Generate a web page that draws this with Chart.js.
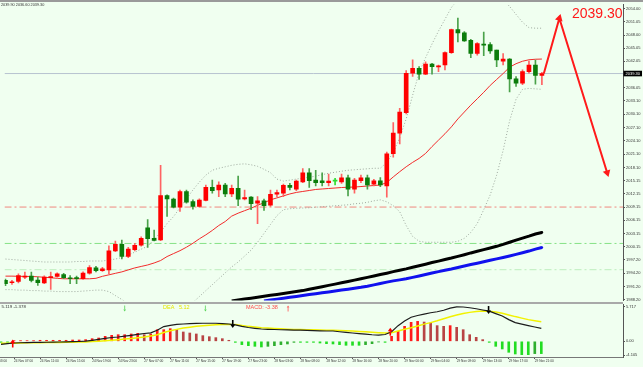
<!DOCTYPE html>
<html>
<head>
<meta charset="utf-8">
<script src="https://cdn.jsdelivr.net/npm/chart.js@4.4.1/dist/chart.umd.min.js"></script>
<style>
    html, body { margin: 0; padding: 0; background: #f0fff0; }
    #wrap   { position: relative; width: 643px; height: 367px; overflow: hidden; background: #f0fff0; }
    canvas  { position: absolute; left: 0; }
    #topbar { position: absolute; left: 0; top: 0; width: 643px; height: 2px; background: #9a9a9a; }
    #sep    { position: absolute; left: 0; top: 302px; width: 623px; height: 2px; background: #a9a9a9; }
</style>
</head>
<body>
<div id="wrap">
    <canvas id="main" width="643" height="305" style="top:0"></canvas>
    <canvas id="macd" width="643" height="65" style="top:302px"></canvas>
    <div id="topbar"></div>
    <div id="sep"></div>
</div>
<script>
// ───────────────────────── CANDLES (H1, bar 0 = leftmost) ─────────────────────────
const opens = [
    1992.60, 1992.05, 1992.35, 1993.33, 1993.55, 1992.66, 1992.00, 1993.18, 1993.47, 1993.91,
    1993.18, 1993.20, 1992.95, 1994.22, 1995.40, 1994.80, 1994.96, 1999.26, 2000.75, 1998.01,
    1999.50, 2000.53, 2004.47, 2002.09, 2001.71, 2011.74, 2010.93, 2009.15, 2012.63, 2010.40,
    2009.28, 2010.62, 2013.61, 2013.00, 2014.12, 2012.11, 2013.38, 2011.00, 2011.38, 2010.04,
    2010.55, 2009.60, 2012.05, 2012.27, 2014.05, 2013.16, 2014.85, 2016.86, 2015.23, 2015.08,
    2014.63, 2015.00, 2014.85, 2015.75, 2013.16, 2015.08, 2015.75, 2014.34, 2015.08, 2013.90,
    2021.18, 2025.86, 2030.45, 2039.36, 2040.48, 2039.14, 2041.41, 2040.80, 2041.23, 2044.04,
    2049.25, 2048.50, 2046.80, 2043.82, 2045.98, 2045.82, 2044.57, 2042.12, 2042.57, 2038.11,
    2037.13, 2039.74, 2041.23, 2038.85
];
const highs = [
    1992.90, 1992.60, 1994.07, 1994.45, 1994.45, 1993.33, 1993.62, 1994.45, 1994.29, 1994.18,
    1993.69, 1993.55, 1994.51, 1995.92, 1995.74, 1995.56, 2000.37, 2001.49, 2001.71, 2000.08,
    2000.98, 2002.42, 2006.32, 2003.93, 2018.57, 2011.89, 2011.16, 2013.00, 2013.00, 2010.77,
    2011.00, 2014.12, 2015.23, 2014.85, 2014.50, 2014.12, 2016.12, 2013.00, 2011.51, 2011.51,
    2010.93, 2013.00, 2013.00, 2014.34, 2014.50, 2015.23, 2017.84, 2017.84, 2017.46, 2016.86,
    2016.57, 2015.61, 2016.57, 2016.35, 2015.61, 2016.35, 2016.35, 2015.39, 2015.83, 2021.54,
    2028.22, 2031.43, 2039.96, 2042.41, 2040.85, 2041.97, 2041.59, 2041.23, 2044.20, 2049.32,
    2051.84, 2048.80, 2047.03, 2046.27, 2048.65, 2046.27, 2044.60, 2043.82, 2042.70, 2038.63,
    2040.12, 2042.12, 2042.35, 2039.58
];
const lows = [
    1991.40, 1991.70, 1992.00, 1992.95, 1992.22, 1991.46, 1991.84, 1990.57, 1993.33, 1992.95,
    1991.84, 1991.84, 1992.80, 1994.00, 1994.51, 1994.62, 1994.07, 1999.08, 1997.41, 1997.70,
    1999.26, 2000.30, 2000.02, 2001.49, 2001.53, 2007.06, 2008.93, 2008.17, 2010.04, 2008.69,
    2009.10, 2010.55, 2012.27, 2011.51, 2011.51, 2011.51, 2009.44, 2010.77, 2008.55, 2005.40,
    2008.39, 2009.28, 2011.51, 2011.51, 2013.00, 2012.85, 2014.63, 2013.61, 2013.90, 2013.90,
    2013.90, 2014.12, 2014.50, 2011.67, 2012.27, 2014.63, 2013.16, 2013.90, 2013.74, 2011.38,
    2020.42, 2023.41, 2030.16, 2038.63, 2037.96, 2039.07, 2039.14, 2039.74, 2040.12, 2043.82,
    2046.42, 2046.58, 2042.86, 2043.46, 2043.31, 2043.82, 2040.85, 2041.23, 2035.13, 2036.40,
    2036.78, 2039.36, 2036.91, 2036.78
];
const closes = [
    1991.85, 1992.27, 1993.69, 1993.47, 1992.57, 1992.06, 1993.33, 1993.47, 1994.07, 1993.18,
    1992.95, 1993.00, 1994.22, 1995.47, 1994.80, 1995.18, 1999.26, 2000.75, 1998.01, 1999.64,
    2000.53, 2002.09, 2002.02, 2001.64, 2011.74, 2011.00, 2009.15, 2012.63, 2010.26, 2009.28,
    2010.71, 2013.61, 2012.85, 2014.12, 2012.11, 2013.38, 2010.93, 2011.29, 2009.89, 2010.55,
    2009.44, 2012.05, 2012.40, 2014.05, 2013.61, 2015.01, 2016.86, 2015.08, 2014.63, 2014.63,
    2015.01, 2015.00, 2015.75, 2013.16, 2015.23, 2015.75, 2014.12, 2015.08, 2014.12, 2021.18,
    2025.86, 2030.61, 2039.36, 2040.48, 2039.14, 2041.41, 2040.85, 2040.90, 2044.04, 2049.25,
    2048.50, 2046.65, 2043.82, 2046.05, 2045.69, 2044.42, 2042.35, 2042.57, 2038.11, 2037.13,
    2039.74, 2041.23, 2038.85, 2039.30
];

// ───────────────────────── INDICATORS (main window) ─────────────────────────
const maRed = [
    1993.55, 1993.55, 1993.51, 1993.49, 1993.47, 1993.40, 1993.29, 1993.18, 1993.06, 1992.95,
    1992.95, 1992.95, 1992.95, 1992.95, 1993.06, 1993.51, 1993.84, 1994.18, 1994.51, 1994.96,
    1995.40, 1995.74, 1996.07, 1996.52, 1997.07, 1997.97, 1998.64, 1999.30, 2000.08, 2000.97,
    2001.98, 2002.87, 2003.87, 2004.98, 2005.88, 2007.10, 2007.77, 2008.33, 2008.88, 2009.55,
    2010.11, 2010.78, 2011.22, 2011.67, 2012.11, 2012.45, 2012.67, 2012.89, 2013.12, 2013.23,
    2013.34, 2013.45, 2013.56, 2013.63, 2013.67, 2013.78, 2013.90, 2014.01, 2014.12, 2014.70,
    2015.95, 2017.13, 2018.24, 2019.24, 2020.13, 2021.25, 2022.81, 2024.26, 2025.70, 2027.26,
    2029.05, 2030.61, 2032.17, 2033.61, 2035.06, 2036.62, 2037.96, 2039.30, 2040.74, 2041.52,
    2042.08, 2042.41, 2042.53, 2042.57
];
const bandUpper = [
    1997.41, 1997.30, 1997.19, 1997.08, 1996.96, 1996.85, 1996.74, 1996.74, 1996.74, 1996.74,
    1996.74, 1996.85, 1996.85, 1996.96, 1996.96, 1996.96, 1997.19, 1997.41, 1997.74, 1998.30,
    1998.97, 1999.64, 2000.30, 2001.86, 2003.42, 2005.43, 2006.99, 2008.99, 2011.00, 2013.00,
    2014.79, 2016.35, 2017.46, 2017.91, 2018.24, 2018.58, 2018.80, 2018.91, 2018.69, 2018.35,
    2017.68, 2016.90, 2015.46, 2015.01, 2015.23, 2015.46, 2015.68, 2015.90, 2016.12, 2016.46,
    2016.79, 2017.01, 2017.24, 2017.46, 2017.57, 2017.68, 2017.79, 2017.91, 2017.91, 2019.24,
    2021.47, 2024.81, 2029.05, 2034.39, 2039.52, 2042.86, 2045.98, 2048.88, 2051.55, 2054.22,
    2056.00, 2057.12, 2058.01, 2058.46, 2058.46, 2058.01, 2057.12, 2056.00, 2054.45, 2052.66,
    2050.88, 2049.66, 2049.54, 2049.54
];
const bandLower = [
    1990.50, 1990.50, 1990.39, 1990.39, 1990.28, 1990.28, 1990.17, 1990.17, 1990.06, 1990.06,
    1990.06, 1990.06, 1990.17, 1990.28, 1990.39, 1990.39, 1990.06, 1989.16, 1988.27, 1987.38,
    1986.94, 1986.49, 1986.27, 1986.04, 1986.04, 1986.04, 1986.27, 1986.49, 1986.94, 1987.60,
    1988.94, 1990.28, 1991.62, 1992.95, 1994.29, 1995.63, 1996.74, 1998.08, 1999.42, 2001.20,
    2003.20, 2005.21, 2007.21, 2008.55, 2008.77, 2008.88, 2008.93, 2008.99, 2009.11, 2009.22,
    2009.33, 2009.44, 2009.55, 2009.66, 2009.89, 2010.00, 2010.22, 2010.55, 2010.78, 2010.33,
    2009.44, 2008.10, 2004.98, 2002.53, 2001.42, 2001.20, 2001.20, 2001.20, 2001.20, 2001.20,
    2001.42, 2002.09, 2003.42, 2005.43, 2008.55, 2011.89, 2016.35, 2021.92, 2028.60, 2033.50,
    2035.73, 2035.95, 2035.84, 2035.73
];
// slow averages only enter the window late (null = below the visible range)
const maBlack = [
    null, null, null, null, null, null, null, null, null, null,
    null, null, null, null, null, null, null, null, null, null,
    null, null, null, null, null, null, null, null, null, null,
    null, null, null, null, null, 1987.94, 1988.16, 1988.36, 1988.56, 1988.76,
    1988.99, 1989.21, 1989.41, 1989.63, 1989.83, 1990.06, 1990.28, 1990.59, 1990.88, 1991.17,
    1991.46, 1991.75, 1992.04, 1992.33, 1992.64, 1992.95, 1993.27, 1993.58, 1993.91, 1994.22,
    1994.56, 1994.87, 1995.18, 1995.54, 1995.90, 1996.25, 1996.61, 1996.94, 1997.30, 1997.63,
    1998.01, 1998.39, 1998.79, 1999.15, 1999.53, 1999.90, 2000.28, 2000.71, 2001.20, 2001.67,
    2002.13, 2002.58, 2003.07, 2003.42
];
const maBlue = [
    null, null, null, null, null, null, null, null, null, null,
    null, null, null, null, null, null, null, null, null, null,
    null, null, null, null, null, null, null, null, null, null,
    null, null, null, null, null, null, null, null, null, null,
    1987.92, 1988.14, 1988.36, 1988.56, 1988.76, 1988.97, 1989.19, 1989.39, 1989.59, 1989.79,
    1989.99, 1990.19, 1990.41, 1990.61, 1990.83, 1991.02, 1991.28, 1991.58, 1991.90, 1992.20,
    1992.48, 1992.70, 1992.95, 1993.27, 1993.58, 1993.91, 1994.25, 1994.56, 1994.89, 1995.18,
    1995.51, 1995.83, 1996.16, 1996.47, 1996.81, 1997.12, 1997.45, 1997.77, 1998.10, 1998.46,
    1998.84, 1999.21, 1999.64, 2000.02
];

// ───────────────────────── MACD WINDOW ─────────────────────────
const macdLine = [
    -0.50, -0.38, -0.28, -0.24, -0.21, -0.19, -0.17, -0.15, -0.13, -0.11,
    -0.09, -0.06, -0.03, 0.03, 0.17, 0.32, 0.48, 0.63, 0.72, 0.85,
    1.00, 1.15, 1.30, 1.40, 1.84, 2.45, 2.65, 2.82, 2.87, 2.92,
    2.97, 3.00, 3.00, 3.00, 2.95, 2.87, 2.74, 2.49, 2.29, 2.16,
    2.04, 1.99, 1.96, 1.92, 1.90, 1.87, 1.87, 1.82, 1.77, 1.74,
    1.71, 1.71, 1.59, 1.48, 1.38, 1.28, 1.18, 1.09, 1.04, 1.13,
    1.60, 2.60, 3.37, 4.00, 4.28, 4.50, 4.74, 4.90, 5.15, 5.50,
    5.70, 5.69, 5.57, 5.40, 5.20, 5.00, 4.60, 4.20, 3.60, 3.10,
    2.84, 2.60, 2.37, 2.16
];
const signalLine = [
    -0.33, -0.33, -0.30, -0.27, -0.25, -0.23, -0.22, -0.21, -0.20, -0.19,
    -0.17, -0.15, -0.13, -0.10, -0.05, 0.02, 0.10, 0.18, 0.27, 0.38,
    0.48, 0.60, 0.72, 0.90, 1.10, 1.45, 1.75, 1.98, 2.20, 2.35,
    2.50, 2.60, 2.68, 2.74, 2.78, 2.80, 2.78, 2.62, 2.48, 2.38,
    2.27, 2.20, 2.13, 2.07, 2.02, 1.98, 1.95, 1.93, 1.90, 1.87,
    1.85, 1.82, 1.79, 1.75, 1.70, 1.64, 1.57, 1.50, 1.43, 1.38,
    1.42, 1.72, 2.00, 2.25, 2.55, 2.85, 3.10, 3.40, 3.75, 4.08,
    4.35, 4.60, 4.80, 4.95, 5.02, 5.00, 4.85, 4.65, 4.38, 4.10,
    3.85, 3.60, 3.42, 3.25
];
const macdHist = [
    -0.17, -0.17, 0.11, 0.11, 0.11, 0.11, 0.17, 0.17, 0.17, 0.17,
    0.17, 0.22, 0.22, 0.28, 0.44, 0.55, 0.83, 0.99, 1.10, 1.10,
    1.22, 1.33, 1.10, 1.22, 1.93, 1.93, 2.10, 1.99, 1.55, 1.38,
    1.22, 0.94, 0.77, 0.61, 0.44, 0.17, -0.17, -0.55, -0.72, -0.83,
    -0.94, -0.83, -0.72, -0.55, -0.44, -0.17, -0.17, -0.17, -0.17, -0.28,
    -0.39, -0.44, -0.55, -0.66, -0.66, -0.66, -0.55, -0.39, -0.11, -0.17,
    0.83, 1.66, 2.49, 3.15, 3.31, 3.20, 3.04, 2.60, 2.49, 2.60,
    2.32, 1.93, 1.10, 0.66, 0.28, -0.17, -0.83, -1.27, -1.82, -2.10,
    -2.21, -2.21, -2.04, -2.04
];
const crossMarks  = [ { bar: 1.8, value: -0.36, up: true }, { bar: 35.6, value: 2.87, up: false },
                      { bar: 59.8, value: 1.60, up: true }, { bar: 74.9, value: 5.19, up: false } ];
const signalMarks = [ { bar: 19.0, up: false }, { bar: 31.4, up: false }, { bar: 44.1, up: true } ];

// ───────────────────────── AXES, LEVELS, TEXT ─────────────────────────
const priceTicks = [2054.00, 2051.05, 2048.00, 2045.05, 2042.05, 2036.05, 2033.10, 2030.10, 2027.10, 2024.10, 2021.10,
                    2018.10, 2015.15, 2012.15, 2009.15, 2006.15, 2003.15, 2000.15, 1997.20, 1994.20, 1991.20, 1988.20];
const macdTickValues = [5.717, 0, -2.3];
const macdTickLabels = ["5.717", "0.00", "-4.105"];
const timeTickBars   = [-2, 2, 6, 10, 14, 18, 22, 26, 30, 34, 38, 42, 46, 50, 54, 58, 62, 66, 70, 74, 78, 82];
const timeTickLabels = ["24 Nov 03:00", "24 Nov 07:00", "24 Nov 11:00", "24 Nov 15:00", "24 Nov 19:00", "24 Nov 23:00",
                        "27 Nov 07:00", "27 Nov 11:00", "27 Nov 15:00", "27 Nov 19:00", "27 Nov 23:00",
                        "28 Nov 03:00", "28 Nov 08:00", "28 Nov 12:00", "28 Nov 16:00", "28 Nov 20:00",
                        "29 Nov 00:00", "29 Nov 04:00", "29 Nov 09:00", "29 Nov 13:00", "29 Nov 17:00", "29 Nov 21:00"];
const levels      = [2039.30, 2009.15, 2000.93, 1995.00];
const levelColors = ["#b7c4d0", "#f0877f", "#85e285", "#bdeebd"];
const forecastPath = [ { x: 83.3, y: 2039.30 }, { x: 85.7, y: 2051.77 }, { x: 93.1, y: 2016.90 } ];
const headerText = "2039.90 2036.60 2039.30";
const macdHeader = "5.119 -1.378";
const deaText    = "DEA   5.12";
const macdText   = "MACD: -3.38";

const X_MIN = -0.154, X_MAX = 95.55;
const FONT  = "'Liberation Sans', Arial, sans-serif";

// ───────────────────────── HELPERS ─────────────────────────
const bars = opens.map((_, i) => i);
const pts  = arr => arr.map((v, i) => ({ x: i, y: v }));
const bodyCol = i => closes[i] > opens[i] ? "#ff0000" : closes[i] < opens[i] ? "#0b7d0b" : "#2fdc2f";
const wickCol = i => closes[i] > opens[i] ? "#ff6363" : closes[i] < opens[i] ? "#4aa24a" : "#2fdc2f";
const histCol = i => {
    const v = macdHist[i], p = i > 0 ? macdHist[i - 1] : v;
    if (v >= 0) return v >= p ? "#ff1a1a" : "#b84444";
    return v <= p ? "#22dd22" : "#2fae2f";
};
function arrowAngle(c) {
    const i = c.dataIndex;
    if (i === 0) return 0;
    const xs = c.chart.scales.x, ys = c.chart.scales.y;
    const a = forecastPath[i - 1], b = forecastPath[i];
    const dx = xs.getPixelForValue(b.x) - xs.getPixelForValue(a.x);
    const dy = ys.getPixelForValue(b.y) - ys.getPixelForValue(a.y);
    return Math.atan2(dx, -dy) * 180 / Math.PI;
}
function drawArrow(ctx, x, y, up, len, width, headW, headL, color) {
    const dir = up ? -1 : 1;
    const tip = y + dir * len / 2, tail = y - dir * len / 2;
    ctx.save();
    ctx.strokeStyle = color; ctx.fillStyle = color; ctx.lineWidth = width;
    ctx.beginPath(); ctx.moveTo(x, tail); ctx.lineTo(x, tip - dir * headL); ctx.stroke();
    ctx.beginPath(); ctx.moveTo(x, tip); ctx.lineTo(x - headW / 2, tip - dir * headL); ctx.lineTo(x + headW / 2, tip - dir * headL);
    ctx.closePath(); ctx.fill();
    ctx.restore();
}
const fixRight  = s => { s.width = 20; s.paddingTop = 0; s.paddingBottom = 0; };
const fixBottom = s => { s.height = 10; s.paddingLeft = 0; s.paddingRight = 0; };
const endDot = c => c.dataIndex === bars.length - 1 ? 1.3 : 0;

// ───────────────────────── MAIN WINDOW ─────────────────────────
const mainOverlay = {
    id: "mainOverlay",
    afterDraw(chart) {
        const { ctx, scales: { y } } = chart;
        ctx.save();
        ctx.font = "3.8px " + FONT; ctx.fillStyle = "#333"; ctx.textBaseline = "middle";
        ctx.fillText(headerText, 1, 5);
        // current price tag on the axis
        const last = closes[closes.length - 1];
        const py = y.getPixelForValue(last);
        ctx.fillStyle = "#000"; ctx.fillRect(623.5, py - 2.8, 18.5, 5.6);
        ctx.fillStyle = "#fff"; ctx.font = "4px " + FONT;
        ctx.fillText(last.toFixed(2), 625.5, py + 0.2);
        // big label
        ctx.font = "14px " + FONT; ctx.fillStyle = "#ff1a1a"; ctx.textBaseline = "alphabetic";
        ctx.fillText(last.toFixed(2), 572, 17.5);
        ctx.restore();
    }
};

new Chart(document.getElementById("main"), {
    type: "bar",
    data: {
        datasets: [
            { type: "line", data: forecastPath, borderColor: "#ff1a1a", borderWidth: 2, order: 0, clip: false,
              pointStyle: "triangle", pointRadius: c => c.dataIndex === 0 ? 0 : 4.5,
              pointBackgroundColor: "#ff1a1a", pointBorderColor: "#ff1a1a", pointBorderWidth: 0,
              pointRotation: arrowAngle },
            { data: bars.map(i => ({ x: i, y: [opens[i], closes[i]] })), backgroundColor: c => bodyCol(c.dataIndex),
              barThickness: 4, minBarLength: 1, grouped: false, order: 1 },
            { data: bars.map(i => ({ x: i, y: [lows[i], highs[i]] })), backgroundColor: c => wickCol(c.dataIndex),
              barThickness: 1, grouped: false, order: 2 },
            { type: "line", data: pts(maRed), borderColor: "#f22b2b", borderWidth: 1, pointRadius: 0, order: 3 },
            { type: "line", data: pts(maBlack), borderColor: "#000", borderWidth: 3, order: 4,
              pointRadius: endDot, pointBorderWidth: 0, pointBackgroundColor: "#000" },
            { type: "line", data: pts(maBlue), borderColor: "#1111ee", borderWidth: 3, order: 4,
              pointRadius: endDot, pointBorderWidth: 0, pointBackgroundColor: "#1111ee" },
            { type: "line", data: pts(bandUpper), borderColor: "#9ea89e", borderWidth: 1, borderDash: [1, 2], pointRadius: 0, order: 5 },
            { type: "line", data: pts(bandLower), borderColor: "#9ea89e", borderWidth: 1, borderDash: [1, 2], pointRadius: 0, order: 5 },
            ...levels.map((lv, k) => ({
                type: "line", data: [{ x: X_MIN, y: lv }, { x: X_MAX, y: lv }], borderColor: levelColors[k],
                borderWidth: 1, borderDash: k === 0 ? [] : [7, 3, 2, 3], pointRadius: 0, order: 6
            }))
        ]
    },
    options: {
        responsive: false,
        animation: false,
        devicePixelRatio: 1,
        events: [],
        layout: { padding: { top: 2, bottom: 3, left: 0, right: 0 } },
        scales: {
            x: { type: "linear", min: X_MIN, max: X_MAX, offset: false, display: false, grid: { offset: false } },
            y: {
                position: "right", min: 1988.046, max: 2054.891,
                afterBuildTicks: s => { s.ticks = priceTicks.map(v => ({ value: v })); },
                afterFit: fixRight,
                ticks: { autoSkip: false, padding: 1, color: "#333", font: { family: FONT, size: 4 }, callback: v => v.toFixed(2) },
                grid:  { drawOnChartArea: false, drawTicks: true, tickLength: 2, color: "#555" },
                border: { display: true, color: "#555" }
            }
        },
        plugins: { legend: { display: false }, tooltip: { enabled: false } }
    },
    plugins: [mainOverlay]
});

// ───────────────────────── MACD WINDOW ─────────────────────────
const macdOverlay = {
    id: "macdOverlay",
    afterDraw(chart) {
        const { ctx, scales: { x, y } } = chart;
        ctx.save();
        ctx.textBaseline = "middle";
        ctx.font = "4.4px " + FONT; ctx.fillStyle = "#333";
        ctx.fillText(macdHeader, 1.5, 4.8);
        ctx.font = "5.5px " + FONT;
        ctx.fillStyle = "#e6e600"; ctx.fillText(deaText, 163, 5);
        ctx.fillStyle = "#ff4a4a"; ctx.fillText(macdText, 246, 5);
        ctx.restore();
        signalMarks.forEach(m => drawArrow(ctx, x.getPixelForValue(m.bar), 6.5, m.up, 6, 0.8, 2.6, 2,
                                           m.up ? "#ff5050" : "#55d455"));
        crossMarks.forEach(m => drawArrow(ctx, x.getPixelForValue(m.bar), y.getPixelForValue(m.value), m.up, 8, 1.6, 5, 3.5,
                                          m.up ? "#ff0000" : "#000000"));
    }
};

new Chart(document.getElementById("macd"), {
    type: "bar",
    data: {
        datasets: [
            { type: "line", data: pts(macdLine),   borderColor: "#1c1c1c", borderWidth: 1.2, pointRadius: 0, order: 0 },
            { type: "line", data: pts(signalLine), borderColor: "#f2f200", borderWidth: 1.5, pointRadius: 0, order: 1 },
            { data: pts(macdHist), backgroundColor: c => histCol(c.dataIndex), barThickness: 2, order: 2 }
        ]
    },
    options: {
        responsive: false,
        animation: false,
        devicePixelRatio: 1,
        events: [],
        layout: { padding: { top: 2, bottom: 0, left: 0, right: 0 } },
        scales: {
            x: {
                type: "linear", min: X_MIN, max: X_MAX, offset: false, position: "bottom",
                afterBuildTicks: s => { s.ticks = timeTickBars.map(v => ({ value: v })); },
                afterFit: fixBottom,
                ticks: { autoSkip: false, maxRotation: 0, align: "start", padding: 0, color: "#333",
                         font: { family: FONT, size: 3.2 }, callback: (v, i) => timeTickLabels[i] },
                grid:  { drawOnChartArea: false, drawTicks: true, tickLength: 2, color: "#555", offset: false },
                border: { display: true, color: "#777" }
            },
            y: {
                position: "right", min: -2.60, max: 6.19,
                afterBuildTicks: s => { s.ticks = macdTickValues.map(v => ({ value: v })); },
                afterFit: fixRight,
                ticks: { autoSkip: false, padding: 1, color: "#333", font: { family: FONT, size: 4 },
                         callback: (v, i) => macdTickLabels[i] },
                grid:  { drawOnChartArea: false, drawTicks: true, tickLength: 2, color: "#555" },
                border: { display: true, color: "#555" }
            }
        },
        plugins: { legend: { display: false }, tooltip: { enabled: false } }
    },
    plugins: [macdOverlay]
});
</script>
</body>
</html>
